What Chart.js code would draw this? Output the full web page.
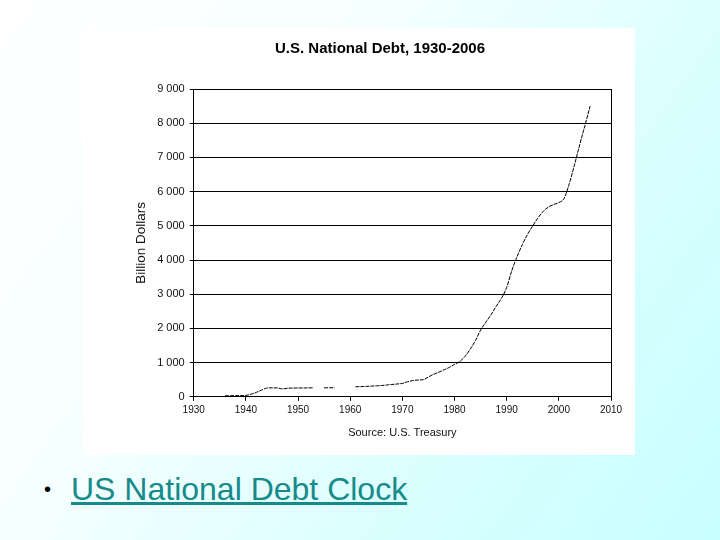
<!DOCTYPE html>
<html>
<head>
<meta charset="utf-8">
<script src="https://cdn.jsdelivr.net/npm/chart.js@4.4.1/dist/chart.umd.min.js"></script>
<style>
  html, body { margin: 0; padding: 0; }
  body {
    width: 720px; height: 540px; position: relative; overflow: hidden;
    background: linear-gradient(125deg, #ffffff 0%, #f6ffff 35%, #d9ffff 70%, #c8ffff 100%);
    font-family: "Liberation Sans", Arial, sans-serif;
  }
  #panel { position: absolute; left: 83px; top: 28px; width: 552px; height: 427px; background: #fff; }
  #wrap { position: absolute; left: 125px; top: 28px; width: 510px; height: 427px; }
  #bullet { position: absolute; left: 44px; top: 473px; font-size: 20px; line-height: 32px; color: #000; }
  #link { position: absolute; left: 71px; top: 473px; font-size: 32px; line-height: 32px; color: #178a8a; text-decoration: underline; }
</style>
</head>
<body>
<div id="panel"></div>
<div id="wrap"><canvas id="debt-chart"></canvas></div>
<div id="bullet">•</div>
<div id="link">US National Debt Clock</div>
<script>
// values, billions of dollars
const years = [
  1936, 1937, 1938, 1939, 1940, 1941, 1942, 1943, 1944, 1945,
  1946, 1947, 1948, 1949, 1950, 1951, 1952, 1953, 1954, 1955,
  1956, 1957, 1958, 1959, 1960, 1961, 1962, 1963, 1964, 1965,
  1966, 1967, 1968, 1969, 1970, 1971, 1972, 1973, 1974, 1975,
  1976, 1977, 1978, 1979, 1980, 1981, 1982, 1983, 1984, 1985,
  1986, 1987, 1988, 1989, 1990, 1991, 1992, 1993, 1994, 1995,
  1996, 1997, 1998, 1999, 2000, 2001, 2002, 2003, 2004, 2005, 2006
];
const debt = [
  30, 32, 34, 36, 40, 75, 130, 195, 255, 262,
  258, 232, 250, 256, 258, 258, 260, 264, null, 262,
  264, 266, null, null, null, 292, 298, 304, 312, 320,
  330, 345, 360, 375, 392, 440, 475, 490, 500, 580,
  660, 720, 790, 860, 950, 1030, 1180, 1390, 1640, 1950,
  2180, 2400, 2650, 2880, 3200, 3700, 4100, 4450, 4750, 5000,
  5230, 5420, 5550, 5620, 5680, 5800, 6230, 6780, 7370, 7930, 8500
];
const chartTitle = "U.S. National Debt, 1930-2006";
const yTitle = "Billion Dollars";
const xTitle = "Source: U.S. Treasury";

let points = [];
years.forEach(function (yr, i) {
  points.push({ x: yr, y: debt[i] });
});

// "9 000" style labels
function spaced(v) {
  return String(v).replace(/\B(?=(\d{3})+(?!\d))/g, " ");
}

let tickFont = { family: "Liberation Sans", size: 11 };

let config = {
  type: "line",
  data: {
    datasets: [{
      data: points,
      borderColor: "#000",
      borderWidth: 1,
      borderDash: [4, 1],
      pointRadius: 0,
      spanGaps: false,
      cubicInterpolationMode: "monotone",
    }],
  },
  options: {
    responsive: true,
    maintainAspectRatio: false,
    animation: false,
    layout: { padding: { left: 0, right: 0, bottom: 13 } },
    plugins: {
      legend: { display: false },
      tooltip: { enabled: false },
      title: {
        display: true,
        text: chartTitle,
        color: "#000",
        font: { family: "Liberation Sans", size: 15, weight: "bold" },
        padding: { top: 12, bottom: 31 },
      },
    },
    scales: {
      x: {
        type: "linear",
        min: 1930,
        max: 2010,
        ticks: { stepSize: 10, color: "#111", font: { family: "Liberation Sans", size: 10 }, padding: 3,
          callback: function (v) { return String(v); } },
        grid: { drawOnChartArea: false, drawTicks: true, tickLength: 4, color: "#000" },
        border: { color: "#000", width: 1 },
        title: { display: true, text: xTitle, color: "#111", font: { family: "Liberation Sans", size: 11 }, padding: { top: 8, bottom: 2 } },
      },
      y: {
        min: 0,
        max: 9000,
        ticks: { stepSize: 1000, color: "#111", font: tickFont, padding: 5,
          callback: function (v) { return spaced(v); } },
        grid: { color: "#000", lineWidth: 1, tickLength: 4 },
        border: { color: "#000", width: 1 },
        title: { display: true, text: yTitle, color: "#111", font: { family: "Liberation Sans", size: 13.5 }, padding: { top: 8, bottom: 3 } },
      },
      // right frame line of the plot
      y2: {
        position: "right",
        min: 0,
        max: 9000,
        ticks: { display: false },
        grid: { display: false, drawTicks: false },
        border: { display: true, color: "#000", width: 1 },
        afterFit: function (scale) { scale.width = 24; },
      },
    },
  },
};

new Chart(document.getElementById("debt-chart"), config);
</script>
</body>
</html>
